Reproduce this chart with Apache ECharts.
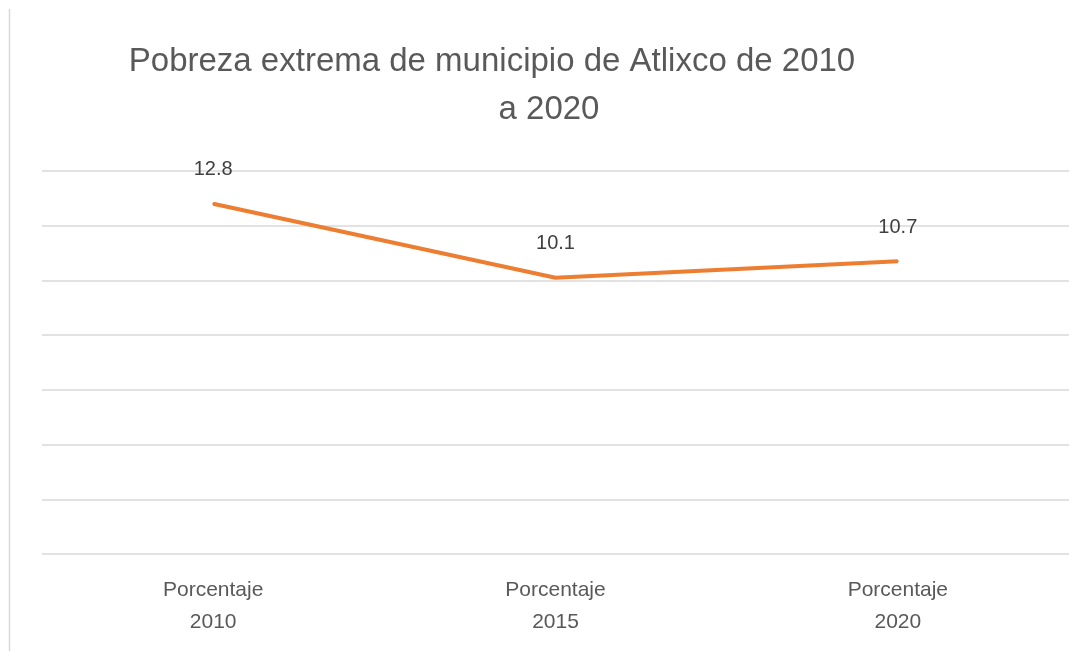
<!DOCTYPE html>
<html>
<head>
<meta charset="utf-8">
<script src="https://cdn.jsdelivr.net/npm/echarts@6/dist/echarts.min.js"></script>
<style>
  html, body { margin: 0; padding: 0; background: #fff; }
  #chart { width: 1086px; height: 651px; }
</style>
</head>
<body>
<div id="chart"></div>
<script>
  // datos
  const categories = ['Porcentaje\n2010', 'Porcentaje\n2015', 'Porcentaje\n2020'];
  const pobrezaExtrema = [12.8, 10.1, 10.7];
  const yMin = 0, yMax = 14, yStep = 2;

  const fontFam = '"Liberation Sans", Arial, sans-serif';
  const chart = echarts.init(document.getElementById('chart'));

  chart.setOption({
    animation: false,
    graphic: [
      // borde izquierdo
      { type: 'line', shape: { x1: 9.5, y1: 9, x2: 9.5, y2: 651 }, style: { stroke: '#d9d9d9', lineWidth: 1.5 } },
      // titulo en dos lineas
      { type: 'text', x: 492, y: 62, style: { text: 'Pobreza extrema de municipio de Atlixco de 2010', font: '33px ' + fontFam, fill: '#595959', textAlign: 'center', textVerticalAlign: 'middle' } },
      { type: 'text', x: 549, y: 110, style: { text: 'a 2020', font: '33px ' + fontFam, fill: '#595959', textAlign: 'center', textVerticalAlign: 'middle' } }
    ],
    grid: { left: 42, right: 17, top: 171, bottom: 97 },
    xAxis: {
      type: 'category',
      data: categories,
      boundaryGap: true,
      axisLine: { show: false },
      axisTick: { show: false },
      axisLabel: { color: '#595959', fontSize: 21, fontFamily: fontFam, lineHeight: 32, margin: 20 }
    },
    yAxis: {
      type: 'value',
      min: yMin,
      max: yMax,
      interval: yStep,
      axisLabel: { show: false },
      axisLine: { show: false },
      axisTick: { show: false },
      splitLine: { lineStyle: { color: '#d9d9d9', width: 1.5 } }
    },
    series: [{
      name: 'Pobreza extrema',
      type: 'line',
      data: pobrezaExtrema,
      symbol: 'circle',
      symbolSize: 2,
      showSymbol: true,
      itemStyle: { color: '#ED7D31' },
      lineStyle: { color: '#ED7D31', width: 4 },
      label: {
        show: true,
        position: 'top',
        distance: 23,
        color: '#404040',
        fontSize: 20,
        fontFamily: fontFam
      }
    }]
  });

  window.onresize = function () {
    chart.resize();
  };
</script>
</body>
</html>
